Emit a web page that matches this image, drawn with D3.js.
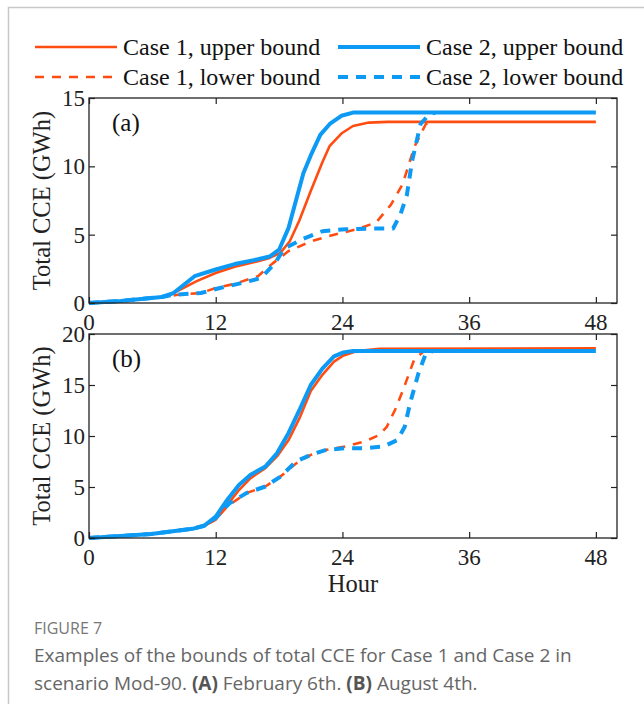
<!DOCTYPE html>
<html>
<head>
<meta charset="utf-8">
<script src="https://cdn.jsdelivr.net/npm/d3@7"></script>
<style>
  body { margin: 0; background: #fff; }
  svg { display: block; }
</style>
</head>
<body>
<svg id="chart" width="644" height="704"></svg>
<script>
// Hours and values (GWh)
// Panel (a): February 6th
const a_c1_up_h = [0, 3, 6.9, 8, 10.2, 12, 13.8, 16, 17.1, 18.1, 19, 19.9, 21, 22.1, 22.8, 23.9, 25, 26.5, 28.3, 48];
const a_c1_up_v = [0, 0.15, 0.44, 0.73, 1.6, 2.2, 2.65, 3.05, 3.3, 3.65, 4.5, 6.0, 8.2, 10.3, 11.5, 12.4, 12.95, 13.2, 13.25, 13.25];

const a_c2_up_h = [0, 3, 6.9, 8, 10, 12, 13.8, 16, 17.1, 18, 18.9, 19.6, 20.3, 21, 21.9, 22.8, 23.9, 25, 48];
const a_c2_up_v = [0, 0.15, 0.44, 0.73, 1.96, 2.45, 2.85, 3.2, 3.4, 3.9, 5.5, 7.5, 9.5, 10.8, 12.3, 13.1, 13.7, 13.93, 13.93];

const a_c1_lo_h = [0, 3, 6.9, 8.4, 10.6, 12, 13.8, 16, 17.4, 18.9, 21, 23.2, 25.4, 27.2, 28.6, 29.7, 30.8, 31.9, 32.5];
const a_c1_lo_v = [0, 0.15, 0.44, 0.6, 0.73, 1.1, 1.4, 1.96, 2.9, 3.8, 4.5, 5.0, 5.4, 5.9, 7.2, 8.7, 11.4, 13.1, 13.25];

const a_c2_lo_h = [0, 3, 6.9, 8, 10.6, 12.4, 14.5, 16.3, 17.6, 18.5, 20.3, 22.1, 24.3, 26.8, 28.8, 29.5, 30.1, 30.6, 31.4, 32.2, 32.8];
const a_c2_lo_v = [0, 0.15, 0.44, 0.6, 0.73, 1.1, 1.47, 1.83, 2.9, 4.0, 4.7, 5.25, 5.4, 5.45, 5.45, 6.5, 7.9, 10.4, 13.1, 13.8, 13.93];

// Panel (b): August 4th
const b_c2_up_h = [0, 5.9, 9.8, 10.9, 12, 13.1, 14.2, 15.3, 16.7, 17.8, 18.9, 20, 21, 22.1, 23.2, 24.1, 25, 48];
const b_c2_up_v = [0, 0.39, 0.9, 1.2, 2.1, 3.75, 5.2, 6.2, 7.0, 8.3, 10.3, 12.7, 15.0, 16.6, 17.8, 18.2, 18.33, 18.33];

const b_c1_up_h = [0, 5.9, 9.8, 10.9, 12, 13.1, 14.2, 15.3, 16.7, 17.8, 18.9, 20, 21, 22.1, 23.2, 24.1, 25.4, 27.5, 48];
const b_c1_up_v = [0, 0.39, 0.9, 1.2, 1.8, 3.25, 4.7, 5.87, 6.85, 8.0, 9.6, 11.9, 14.4, 16.0, 17.3, 17.9, 18.33, 18.56, 18.6];

const b_c1_lo_h = [0, 5.9, 9.8, 10.9, 12, 13.1, 14.9, 16.7, 18.1, 19.6, 21, 22.5, 24.3, 26.1, 27.5, 28.2, 29, 29.7, 30.8, 31.7, 32.2];
const b_c1_lo_v = [0, 0.39, 0.9, 1.2, 1.8, 3.1, 4.4, 5.05, 6.0, 7.3, 8.15, 8.65, 8.97, 9.46, 10.1, 10.9, 12.6, 14.4, 17.5, 18.3, 18.6];

const b_c2_lo_h = [0, 5.9, 9.8, 10.9, 12, 13.3, 14.9, 16.7, 18.1, 19.6, 21, 22.5, 24.3, 26.1, 27.9, 29.2, 29.9, 30.4, 31.2, 31.9, 32.6];
const b_c2_lo_v = [0, 0.39, 0.9, 1.2, 1.96, 3.4, 4.4, 5.05, 6.0, 7.5, 8.15, 8.65, 8.8, 8.8, 8.97, 9.6, 10.9, 13.2, 16.15, 18.1, 18.33];

const xTicks = [0, 12, 24, 36, 48];
const yTicksA = [0, 5, 10, 15];
const yTicksB = [0, 5, 10, 15, 20];

const legendLabels = ["Case 1, upper bound", "Case 2, upper bound", "Case 1, lower bound", "Case 2, lower bound"];

const ORANGE = "#ff4d12";
const BLUE = "#0d9af5";
const serif = "'Liberation Serif', 'Times New Roman', serif";
const sans = "'Open Sans', 'Noto Sans', sans-serif";

const svg = d3.select("#chart");

// card border
svg.append("path")
  .attr("d", "M8.5,704 L8.5,7.5 L644,7.5")
  .attr("fill", "none")
  .attr("stroke", "#c8c8c8")
  .attr("stroke-width", 1.5);

// styles for the four series
const styles = [
  { color: ORANGE, width: 2.6, dash: null },
  { color: BLUE, width: 4, dash: null },
  { color: ORANGE, width: 2.6, dash: "9,8" },
  { color: BLUE, width: 4, dash: "10,8" },
];

///////// Legend /////////
const legendPos = [
  { x: 35, y: 47 }, { x: 338, y: 47 },
  { x: 35, y: 77 }, { x: 338, y: 77 },
];
legendLabels.forEach((lab, i) => {
  const p = legendPos[i], s = styles[i];
  svg.append("line")
    .attr("x1", p.x).attr("x2", p.x + 82)
    .attr("y1", p.y).attr("y2", p.y)
    .attr("stroke", s.color)
    .attr("stroke-width", s.width)
    .attr("stroke-dasharray", s.dash);
  svg.append("text")
    .attr("x", p.x + 88).attr("y", p.y + 8)
    .attr("font-family", serif)
    .attr("font-size", 24)
    .attr("fill", "#111")
    .text(lab);
});

///////// Panels /////////
function drawPanel(top, bottom, yMax, yTicks, tag, series) {
  const x = d3.scaleLinear().domain([0, 50]).range([89, 617]);
  const y = d3.scaleLinear().domain([0, yMax]).range([bottom, top]);
  const g = svg.append("g");

  const line = d3.line().x((d) => x(d[0])).y((d) => y(d[1]));

  // lines: orange first, blue on top
  const order = [0, 2, 1, 3];
  order.forEach((i) => {
    const s = styles[i];
    const pts = series[i][0].map((h, k) => [h, series[i][1][k]]);
    g.append("path")
      .attr("d", line(pts))
      .attr("fill", "none")
      .attr("stroke", s.color)
      .attr("stroke-width", s.width)
      .attr("stroke-dasharray", s.dash)
      .attr("stroke-linejoin", "round");
  });

  // box
  g.append("rect")
    .attr("x", x(0)).attr("y", y(yMax))
    .attr("width", x(50) - x(0)).attr("height", y(0) - y(yMax))
    .attr("fill", "none")
    .attr("stroke", "#222")
    .attr("stroke-width", 1.3);

  // inward ticks on all sides
  const axB = d3.axisTop(x).tickValues(xTicks).tickSize(6).tickFormat("");
  const axT = d3.axisBottom(x).tickValues(xTicks).tickSize(6).tickFormat("");
  const axL = d3.axisRight(y).tickValues(yTicks).tickSize(6).tickFormat("");
  const axR = d3.axisLeft(y).tickValues(yTicks).tickSize(6).tickFormat("");
  [[axB, `translate(0,${bottom})`], [axT, `translate(0,${top})`],
   [axL, `translate(${x(0)},0)`], [axR, `translate(${x(50)},0)`]].forEach(([ax, tr]) => {
    const a = g.append("g").attr("transform", tr).call(ax);
    a.select(".domain").remove();
    a.selectAll("line").attr("stroke", "#222").attr("stroke-width", 1.2);
  });

  // tick labels
  g.selectAll(".xl").data(xTicks).enter().append("text")
    .attr("x", (d) => x(d)).attr("y", bottom + 27)
    .attr("text-anchor", "middle")
    .attr("font-family", serif).attr("font-size", 23).attr("fill", "#222")
    .text((d) => d);
  g.selectAll(".yl").data(yTicks).enter().append("text")
    .attr("x", x(0) - 4).attr("y", (d) => y(d) + 8)
    .attr("text-anchor", "end")
    .attr("font-family", serif).attr("font-size", 23).attr("fill", "#222")
    .text((d) => d);

  // panel tag
  g.append("text")
    .attr("x", 112).attr("y", top + 33)
    .attr("font-family", serif).attr("font-size", 25).attr("fill", "#111")
    .text(tag);

  // y label
  g.append("text")
    .attr("transform", `translate(50,${(top + bottom) / 2}) rotate(-90)`)
    .attr("text-anchor", "middle")
    .attr("font-family", serif).attr("font-size", 24.5).attr("fill", "#222")
    .text("Total CCE (GWh)");
}

drawPanel(98, 303, 15, yTicksA, "(a)", [
  [a_c1_up_h, a_c1_up_v], [a_c2_up_h, a_c2_up_v],
  [a_c1_lo_h, a_c1_lo_v], [a_c2_lo_h, a_c2_lo_v],
]);
drawPanel(334, 538, 20, yTicksB, "(b)", [
  [b_c1_up_h, b_c1_up_v], [b_c2_up_h, b_c2_up_v],
  [b_c1_lo_h, b_c1_lo_v], [b_c2_lo_h, b_c2_lo_v],
]);

svg.append("text")
  .attr("x", 353).attr("y", 592)
  .attr("text-anchor", "middle")
  .attr("font-family", serif).attr("font-size", 24.5).attr("fill", "#222")
  .text("Hour");

///////// Caption /////////
svg.append("text")
  .attr("x", 34).attr("y", 634)
  .attr("font-family", sans).attr("font-size", 16).attr("fill", "#777")
  .text("FIGURE 7");

svg.append("text")
  .attr("x", 34).attr("y", 662)
  .attr("font-family", sans).attr("font-size", 19).attr("fill", "#666")
  .text("Examples of the bounds of total CCE for Case 1 and Case 2 in");

const cap2 = svg.append("text")
  .attr("x", 34).attr("y", 690)
  .attr("font-family", sans).attr("font-size", 19).attr("fill", "#666");
cap2.append("tspan").text("scenario Mod-90. ");
cap2.append("tspan").attr("font-weight", "bold").attr("fill", "#555").text("(A)");
cap2.append("tspan").text(" February 6th. ");
cap2.append("tspan").attr("font-weight", "bold").attr("fill", "#555").text("(B)");
cap2.append("tspan").text(" August 4th.");
</script>
</body>
</html>
